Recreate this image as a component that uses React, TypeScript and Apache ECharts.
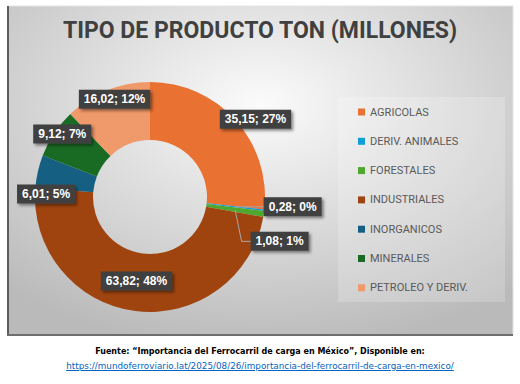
import React, { useEffect, useRef } from 'react';
import * as echarts from 'echarts';

const categories = ['AGRICOLAS', 'DERIV. ANIMALES', 'FORESTALES', 'INDUSTRIALES', 'INORGANICOS', 'MINERALES', 'PETROLEO Y DERIV.'];
const values = [35.15, 0.28, 1.08, 63.82, 6.01, 9.12, 16.02];
const colors = ['#E97132', '#0F9ED5', '#4EA72E', '#A0440F', '#156082', '#196B24', '#F0996A'];
// label placement: [angle shift from the slice middle (deg), distance from centre (px)]
const labelPlacement = [[5.5, 131], [-2.7, 143], [10.4, 137], [1.8, 85], [-11.3, 104], [2, 108], [2, 104]];
const leaderLine = [false, true, true, false, false, false, false];

const TITLE = 'TIPO DE PRODUCTO TON (MILLONES)';
const SOURCE = 'Fuente: \u201cImportancia del Ferrocarril de carga en M\u00e9xico\u201d, Disponible en:';
const URL = 'https://mundoferroviario.lat/2025/08/26/importancia-del-ferrocarril-de-carga-en-mexico/';

const CX = 150;
const CY = 197;
const R_IN = 57;
const R_OUT = 115;
const LABEL_FONT = 'bold 12px "Liberation Sans"';

function fmtValue(v: number) {
  return v.toFixed(2).replace('.', ',');
}

export default function App() {
  const ref = useRef<HTMLDivElement>(null);
  useEffect(() => {
    if (!ref.current) return;
    const chart = echarts.init(ref.current, undefined, { renderer: 'svg' });
    const total = values.reduce((a, b) => a + b, 0);
    const midAngles: number[] = [];
    let acc = 0;
    values.forEach((v) => {
      midAngles.push(((acc + v / 2) / total) * 360);
      acc += v;
    });
    // percentages with largest-remainder rounding (as ECharts percentPrecision 0)
    const raw = values.map((v) => (v / total) * 100);
    const pct = raw.map((r) => Math.floor(r));
    let missing = 100 - pct.reduce((a, b) => a + b, 0);
    raw
      .map((r, i) => ({ i, rem: r - Math.floor(r) }))
      .sort((a, b) => b.rem - a.rem)
      .forEach((o) => {
        if (missing > 0) {
          pct[o.i] += 1;
          missing -= 1;
        }
      });
    const labelTexts = values.map((v, i) => fmtValue(v) + '; ' + pct[i] + '%');
    const ctx = document.createElement('canvas').getContext('2d');
    const labelPos = values.map((_, i) => {
      const [shift, r] = labelPlacement[i];
      const a = ((midAngles[i] + shift) * Math.PI) / 180;
      return [CX + r * Math.sin(a), CY - r * Math.cos(a)];
    });
    const leaderGraphics: any[] = [];
    values.forEach((_, i) => {
      if (!leaderLine[i]) return;
      let w = 56;
      if (ctx) {
        ctx.font = LABEL_FONT;
        w = ctx.measureText(labelTexts[i]).width + 10;
      }
      const [x, y] = labelPos[i];
      const left = x - w / 2;
      const m = (midAngles[i] * Math.PI) / 180;
      const rm = (R_IN + R_OUT) / 2;
      leaderGraphics.push({
        type: 'polyline',
        z: 5,
        shape: {
          points: [
            [CX + rm * Math.sin(m), CY - rm * Math.cos(m)],
            [left - 9, y],
            [left, y],
          ],
        },
        style: { stroke: '#A6A6A6', lineWidth: 1, fill: null },
      });
    });

    chart.setOption({
      animation: false,
      backgroundColor: '#ffffff',
      title: {
        text: TITLE,
        left: 'center',
        top: 19,
        padding: 0,
        textStyle: { fontSize: 23, fontWeight: 'bold', color: '#404040', fontFamily: 'Roboto' },
      },
      graphic: [
        {
          type: 'rect',
          z: -10,
          shape: { x: 8, y: 6, width: 505, height: 329 },
          style: {
            fill: new echarts.graphic.RadialGradient(0.5, 0.3, 0.75, [
              { offset: 0, color: '#fbfbfb' },
              { offset: 1, color: '#bababa' },
            ]),
            stroke: '#e4e4e4',
            lineWidth: 1,
          },
        },
        { type: 'rect', z: -9, shape: { x: 7, y: 6, width: 2, height: 330 }, style: { fill: '#5c5c5c' } },
        { type: 'rect', z: -9, shape: { x: 7, y: 334, width: 506, height: 2 }, style: { fill: '#6e6e6e' } },
        {
          type: 'rect',
          z: -8,
          shape: { x: 338, y: 97, width: 167, height: 205 },
          style: { fill: 'rgba(255,255,255,0.2)' },
        },
        ...leaderGraphics,
      ],
      legend: {
        orient: 'vertical',
        left: 358,
        top: 105,
        padding: 0,
        itemWidth: 7,
        itemHeight: 7,
        itemGap: 15.3,
        icon: 'rect',
        data: categories,
        textStyle: { fontSize: 11, lineHeight: 14, color: '#595959', fontFamily: 'Roboto' },
      },
      series: [
        {
          type: 'pie',
          center: [CX, CY],
          radius: [R_IN, R_OUT],
          startAngle: 90,
          clockwise: true,
          avoidLabelOverlap: false,
          percentPrecision: 0,
          z: 2,
          itemStyle: { borderWidth: 0 },
          label: {
            show: true,
            position: 'outside',
            formatter: (p: any) => labelTexts[p.dataIndex],
            color: '#ffffff',
            fontSize: 12,
            fontWeight: 'bold',
            fontFamily: 'Liberation Sans',
            backgroundColor: '#404040',
            padding: [4, 5, 3, 5],
            shadowColor: 'rgba(0,0,0,0.45)',
            shadowBlur: 3,
            shadowOffsetX: 2,
            shadowOffsetY: 2,
          },
          labelLine: { show: false },
          labelLayout: (params: any) => {
            const [x, y] = labelPos[params.dataIndex];
            return { x, y, align: 'center', verticalAlign: 'middle' };
          },
          data: categories.map((name, i) => ({
            name,
            value: values[i],
            itemStyle: { color: colors[i] },
          })),
        },
      ],
    });
    return () => chart.dispose();
  }, []);

  return (
    <div style={{ position: 'fixed', left: 0, top: 0, width: 520, height: 384, background: '#fff' }}>
      <div ref={ref} style={{ position: 'absolute', left: 0, top: 0, width: 520, height: 384 }} />
      <div
        style={{
          position: 'absolute',
          left: 0,
          top: 345,
          width: 520,
          textAlign: 'center',
          fontFamily: 'DejaVu Sans, sans-serif',
          lineHeight: '14px',
          color: '#000',
        }}
      >
        <div style={{ fontWeight: 'bold', fontSize: 8 }}>{SOURCE}</div>
        <div style={{ color: '#0563C1', textDecoration: 'underline', fontSize: 8.8 }}>{URL}</div>
      </div>
    </div>
  );
}
